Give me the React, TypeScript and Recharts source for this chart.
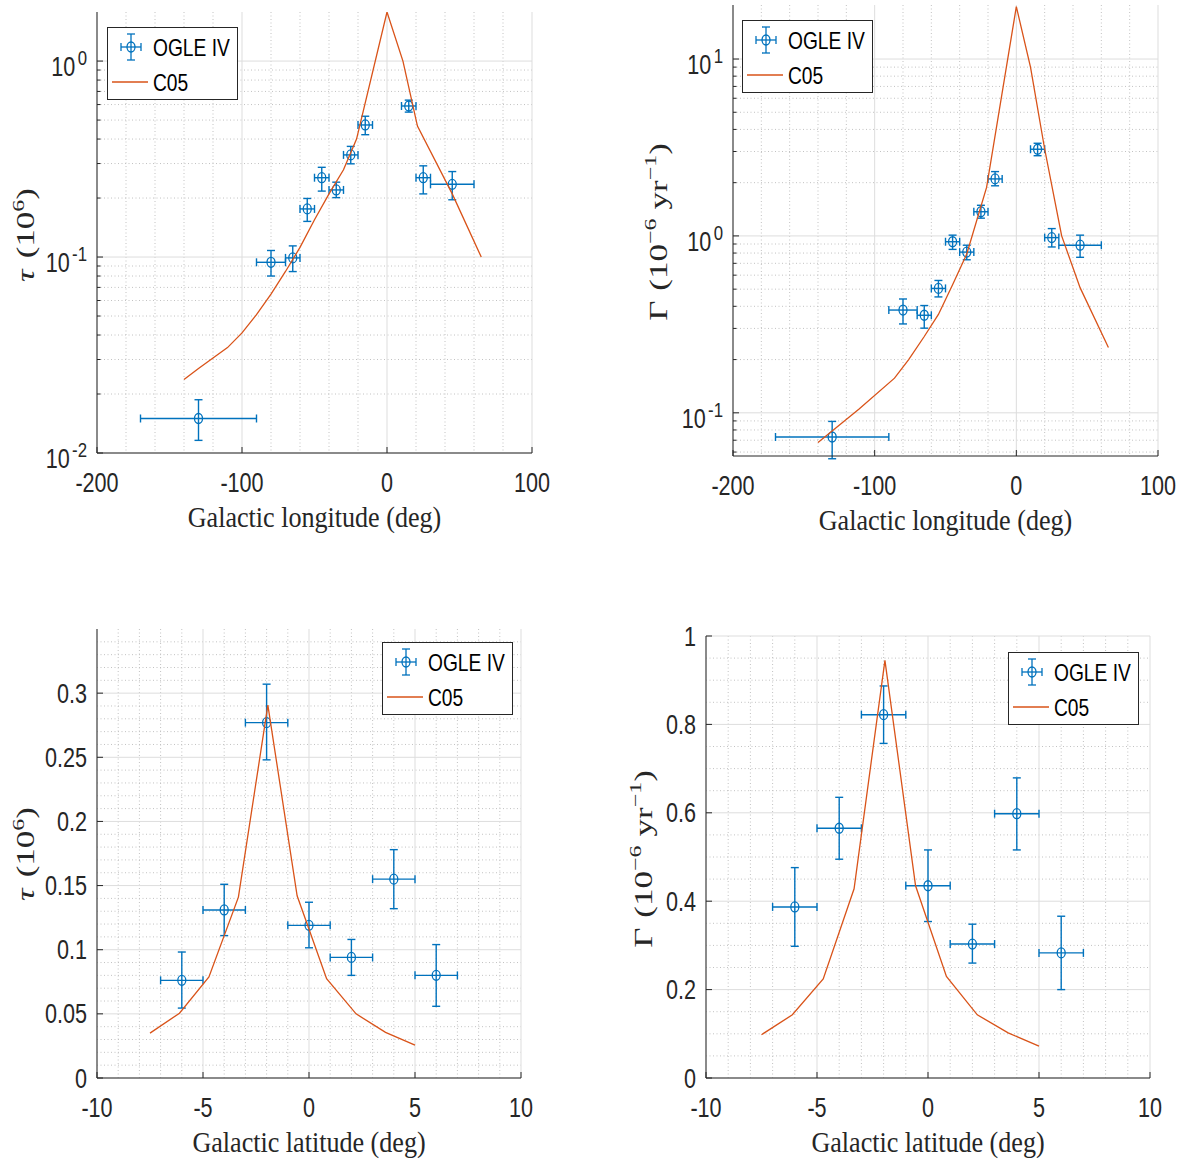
import React from "react";
import { ScatterChart, Scatter, XAxis, YAxis, CartesianGrid, ErrorBar, Legend } from "recharts";

const BLUE = "#0072BD";
const ORANGE = "#D95319";
const INK = "#262626";
const SANS = "'Liberation Sans', Arial, sans-serif";
const SERIF = "'Liberation Serif', 'Times New Roman', serif";

// OGLE IV, longitude bins (top row)
const lonBins = [-130, -80, -65, -55, -45, -35, -25, -15, 15, 25, 45];
const lonHalfWidth = [40, 10, 5, 5, 5, 5, 5, 5, 5, 5, 15];
const tauLon = [0.015, 0.094, 0.099, 0.176, 0.254, 0.22, 0.332, 0.472, 0.59, 0.254, 0.235];
const tauLonLow = [0.0116, 0.08, 0.0843, 0.152, 0.217, 0.201, 0.299, 0.421, 0.549, 0.21, 0.196];
const tauLonHigh = [0.0187, 0.108, 0.114, 0.199, 0.287, 0.241, 0.367, 0.523, 0.632, 0.292, 0.273];
const rateLon = [0.073, 0.381, 0.356, 0.505, 0.927, 0.81, 1.37, 2.1, 3.09, 0.978, 0.886];
const rateLonLow = [0.055, 0.318, 0.301, 0.452, 0.839, 0.733, 1.26, 1.92, 2.84, 0.866, 0.757];
const rateLonHigh = [0.0894, 0.44, 0.404, 0.56, 1.01, 0.886, 1.49, 2.31, 3.34, 1.1, 1.01];

// C05 model along longitude
const c05TauLonX = [-140, -130, -120, -110, -100, -90, -80, -70, -60, -50, -40, -30, -21, 0, 11, 21, 45, 65];
const c05TauLonY = [0.0237, 0.027, 0.0305, 0.0345, 0.041, 0.0508, 0.0647, 0.0844, 0.112, 0.155, 0.21, 0.279, 0.4, 1.78, 1.0, 0.466, 0.21, 0.1];
const c05RateLonX = [-140, -111, -86, -76, -65, -55, -45, -35, -21, 0, 10, 20, 32, 45, 65];
const c05RateLonY = [0.068, 0.105, 0.157, 0.2, 0.27, 0.36, 0.53, 0.79, 1.88, 19.8, 9.0, 3.1, 1.0, 0.51, 0.234];

// OGLE IV, latitude bins (bottom row)
const latBins = [-6, -4, -2, 0, 2, 4, 6];
const latHalfWidth = [1, 1, 1, 1, 1, 1, 1];
const tauLat = [0.0761, 0.131, 0.277, 0.119, 0.094, 0.155, 0.08];
const tauLatLow = [0.0545, 0.111, 0.248, 0.1015, 0.08, 0.132, 0.0559];
const tauLatHigh = [0.0982, 0.151, 0.307, 0.137, 0.108, 0.178, 0.104];
const rateLat = [0.387, 0.565, 0.822, 0.435, 0.303, 0.598, 0.283];
const rateLatLow = [0.298, 0.495, 0.757, 0.354, 0.26, 0.516, 0.2];
const rateLatHigh = [0.476, 0.635, 0.887, 0.516, 0.348, 0.679, 0.366];

// C05 model along latitude
const c05LatX = [-7.5, -6.11, -4.72, -3.33, -1.94, -0.56, 0.83, 2.22, 3.61, 5];
const c05TauLatY = [0.035, 0.0505, 0.0788, 0.141, 0.2906, 0.142, 0.0774, 0.05, 0.0356, 0.0256];
const c05RateLatY = [0.098, 0.143, 0.224, 0.428, 0.945, 0.435, 0.23, 0.143, 0.102, 0.072];

// ticks
const lonTicks = [-200, -100, 0, 100];
const latTicks = [-10, -5, 0, 5, 10];
const tauLonTicks = [0.01, 0.1, 1];
const rateLonTicks = [0.1, 1, 10];
const tauLatTicks = [0, 0.05, 0.1, 0.15, 0.2, 0.25, 0.3];
const rateLatTicks = [0, 0.2, 0.4, 0.6, 0.8, 1];

const obsRows = (xs: number[], hw: number[], ys: number[], lo: number[], hi: number[]) =>
  xs.map((x, i) => ({ x, y: ys[i], ex: hw[i], ey: [ys[i] - lo[i], hi[i] - ys[i]] }));
const modelRows = (xs: number[], ys: number[]) => xs.map((x, i) => ({ x, y: ys[i] }));

// minor grid positions
const logMinor = (lo: number, hi: number) => {
  const out: number[] = [];
  for (let e = -3; e <= 2; e++)
    for (let m = 2; m <= 9; m++) {
      const v = +(m * Math.pow(10, e)).toPrecision(6);
      if (v > lo && v < hi) out.push(v);
    }
  return out;
};
const linMinor = (lo: number, hi: number, step: number, major: number) => {
  const out: number[] = [];
  const n = Math.round((hi - lo) / step);
  for (let i = 1; i < n; i++) {
    const v = +(lo + i * step).toFixed(4);
    const r = v / major;
    if (Math.abs(r - Math.round(r)) > 1e-6) out.push(v);
  }
  return out;
};

const isPow10 = (v: number) => {
  const l = Math.log10(v);
  return Math.abs(l - Math.round(l)) < 1e-6;
};

const XTick = (p: any) => {
  const { x, y, payload } = p;
  return (
    <g>
      <line x1={x} x2={x} y1={y} y2={y - 6} stroke={INK} />
      <text transform={`translate(${x},${y + 39}) scale(0.8,1)`} textAnchor="middle" fontFamily={SANS} fontSize={27} fill={INK}>
        {String(payload.value)}
      </text>
    </g>
  );
};

const YTickLin = (p: any) => {
  const { x, y, payload } = p;
  return (
    <g>
      <line x1={x} x2={x + 6} y1={y} y2={y} stroke={INK} />
      <text transform={`translate(${x - 10},${y + 9.5}) scale(0.8,1)`} textAnchor="end" fontFamily={SANS} fontSize={27} fill={INK}>
        {String(payload.value)}
      </text>
    </g>
  );
};

const YTickLog = (p: any) => {
  const { x, y, payload } = p;
  const v = payload.value;
  const major = isPow10(v);
  return (
    <g>
      <line x1={x} x2={x + (major ? 6 : 3.5)} y1={y} y2={y} stroke={INK} />
      {major && (
        <text transform={`translate(${x - 10},${y + 15}) scale(0.8,1)`} textAnchor="end" fontFamily={SANS} fill={INK}>
          <tspan fontSize={27}>10</tspan>
          <tspan fontSize={21} dx={3} dy={-11}>{String(Math.round(Math.log10(v)))}</tspan>
        </text>
      )}
    </g>
  );
};

const LegendBox = () => (
  <div style={{ width: 131, height: 73, boxSizing: "border-box", border: `1px solid ${INK}`, background: "#fff" }}>
    <svg width={129} height={71} style={{ display: "block" }}>
      <g stroke={BLUE} strokeWidth={1.3} fill="none">
        <line x1={23} x2={23} y1={6} y2={32} />
        <line x1={19} x2={27} y1={6} y2={6} />
        <line x1={19} x2={27} y1={32} y2={32} />
        <line x1={13} x2={33} y1={19} y2={19} />
        <line x1={13} x2={13} y1={15} y2={23} />
        <line x1={33} x2={33} y1={15} y2={23} />
        <ellipse cx={23} cy={19} rx={4} ry={5} />
      </g>
      <line x1={4} x2={40} y1={54} y2={54} stroke={ORANGE} strokeWidth={1.3} />
      <text transform="translate(45,27.5) scale(0.8,1)" fontFamily={SANS} fontSize={24} fill="#000">OGLE IV</text>
      <text transform="translate(45,62.5) scale(0.8,1)" fontFamily={SANS} fontSize={24} fill="#000">C05</text>
    </svg>
  </div>
);

const tauLabel = (
  <>
    <tspan fontStyle="italic">τ</tspan>
    <tspan dx={11}>(10</tspan>
    <tspan fontSize={24} dy={-14}>6</tspan>
    <tspan dy={14}>)</tspan>
  </>
);

const rateLabel = (
  <>
    <tspan>Γ</tspan>
    <tspan dx={10}>(10</tspan>
    <tspan fontSize={24} dy={-15}>−6</tspan>
    <tspan dx={9} dy={15}>yr</tspan>
    <tspan fontSize={24} dy={-15}>−1</tspan>
    <tspan dy={15}>)</tspan>
  </>
);

type PanelProps = {
  left: number;
  top: number;
  width: number;
  height: number;
  plot: { l: number; t: number; r: number; b: number };
  xDomain: [number, number];
  xTicks: number[];
  xMinor: number[];
  yDomain: [number, number];
  yTicks: number[];
  yMinor: number[];
  log: boolean;
  obs: { x: number; y: number; ex: number; ey: number[] }[];
  model: { x: number; y: number }[];
  xLabel: string;
  yLabel: React.ReactNode;
  yLabelPos: [number, number];
  legendPos: [number, number];
};

function Panel(props: PanelProps) {
  const { left, top, width, height, plot, log } = props;
  const cx = (plot.l + plot.r) / 2;
  return (
    <div style={{ position: "absolute", left, top, width, height }}>
      <ScatterChart width={width} height={height} margin={{ top: plot.t, right: width - plot.r, left: 0, bottom: 0 }}>
        <CartesianGrid stroke="#c2c2c2" strokeDasharray="1 2.5" horizontalValues={props.yMinor} verticalValues={props.xMinor} />
        <CartesianGrid stroke="#dddddd" horizontalValues={props.yTicks} verticalValues={props.xTicks} />
        <XAxis
          type="number"
          dataKey="x"
          domain={props.xDomain}
          ticks={props.xTicks}
          interval={0}
          allowDataOverflow
          height={height - plot.b}
          tickLine={false}
          tickSize={0}
          tickMargin={0}
          axisLine={{ stroke: INK }}
          tick={(p: any) => <XTick {...p} />}
          label={{
            content: () => (
              <text transform={`translate(${cx},${plot.b + 74}) scale(0.87,1)`} textAnchor="middle" fontFamily={SERIF} fontSize={30} fill={INK}>
                {props.xLabel}
              </text>
            ),
          }}
        />
        <YAxis
          type="number"
          dataKey="y"
          scale={log ? "log" : "linear"}
          domain={props.yDomain}
          ticks={log ? [...props.yTicks, ...props.yMinor].sort((a, b) => a - b) : props.yTicks}
          interval={0}
          allowDataOverflow
          width={plot.l}
          tickLine={false}
          tickSize={0}
          tickMargin={0}
          axisLine={{ stroke: INK }}
          tick={(p: any) => (log ? <YTickLog {...p} /> : <YTickLin {...p} />)}
          label={{
            content: () => (
              <text
                transform={`translate(${props.yLabelPos[0]},${props.yLabelPos[1]}) scale(0.72,1) rotate(-90)`}
                textAnchor="middle"
                fontFamily={SERIF}
                fontSize={35}
                fill={INK}
              >
                {props.yLabel}
              </text>
            ),
          }}
        />
        <Scatter
          data={props.obs}
          isAnimationActive={false}
          shape={(p: any) => <ellipse cx={p.cx} cy={p.cy} rx={4} ry={5} fill="none" stroke={BLUE} strokeWidth={1.3} />}
        >
          <ErrorBar dataKey="ex" direction="x" width={4} stroke={BLUE} strokeWidth={1.4} />
          <ErrorBar dataKey="ey" direction="y" width={4} stroke={BLUE} strokeWidth={1.4} />
        </Scatter>
        <Scatter
          data={props.model}
          isAnimationActive={false}
          line={{ stroke: ORANGE, strokeWidth: 1.3 }}
          lineType="joint"
          shape={() => <g />}
        />
        <Legend
          layout="vertical"
          align="center"
          verticalAlign="middle"
          wrapperStyle={{ left: props.legendPos[0], top: props.legendPos[1], width: 131, height: 73 }}
          content={() => <LegendBox />}
        />
      </ScatterChart>
    </div>
  );
}

export default function App() {
  return (
    <div style={{ position: "absolute", left: 0, top: 0, width: 1181, height: 1163, background: "#fff" }}>
      <Panel
        left={0}
        top={0}
        width={590}
        height={560}
        plot={{ l: 97, t: 12, r: 532, b: 453 }}
        xDomain={[-200, 100]}
        xTicks={lonTicks}
        xMinor={linMinor(-200, 100, 20, 100)}
        yDomain={[0.01, 1.78]}
        yTicks={tauLonTicks}
        yMinor={logMinor(0.01, 1.78)}
        log
        obs={obsRows(lonBins, lonHalfWidth, tauLon, tauLonLow, tauLonHigh)}
        model={modelRows(c05TauLonX, c05TauLonY)}
        xLabel="Galactic longitude (deg)"
        yLabel={tauLabel}
        yLabelPos={[34, 235]}
        legendPos={[107, 27]}
      />
      <Panel
        left={600}
        top={0}
        width={581}
        height={560}
        plot={{ l: 133, t: 5, r: 558, b: 456 }}
        xDomain={[-200, 100]}
        xTicks={lonTicks}
        xMinor={linMinor(-200, 100, 20, 100)}
        yDomain={[0.057, 20.2]}
        yTicks={rateLonTicks}
        yMinor={logMinor(0.057, 19.9)}
        log
        obs={obsRows(lonBins, lonHalfWidth, rateLon, rateLonLow, rateLonHigh)}
        model={modelRows(c05RateLonX, c05RateLonY)}
        xLabel="Galactic longitude (deg)"
        yLabel={rateLabel}
        yLabelPos={[67, 232]}
        legendPos={[142, 20]}
      />
      <Panel
        left={0}
        top={600}
        width={590}
        height={563}
        plot={{ l: 97, t: 29, r: 521, b: 478 }}
        xDomain={[-10, 10]}
        xTicks={latTicks}
        xMinor={linMinor(-10, 10, 1, 5)}
        yDomain={[0, 0.35]}
        yTicks={tauLatTicks}
        yMinor={linMinor(0, 0.35, 0.01, 0.05)}
        log={false}
        obs={obsRows(latBins, latHalfWidth, tauLat, tauLatLow, tauLatHigh)}
        model={modelRows(c05LatX, c05TauLatY)}
        xLabel="Galactic latitude (deg)"
        yLabel={tauLabel}
        yLabelPos={[34, 254]}
        legendPos={[382, 42]}
      />
      <Panel
        left={600}
        top={600}
        width={581}
        height={563}
        plot={{ l: 106, t: 36, r: 550, b: 478 }}
        xDomain={[-10, 10]}
        xTicks={latTicks}
        xMinor={linMinor(-10, 10, 1, 5)}
        yDomain={[0, 1]}
        yTicks={rateLatTicks}
        yMinor={linMinor(0, 1, 0.05, 0.2)}
        log={false}
        obs={obsRows(latBins, latHalfWidth, rateLat, rateLatLow, rateLatHigh)}
        model={modelRows(c05LatX, c05RateLatY)}
        xLabel="Galactic latitude (deg)"
        yLabel={rateLabel}
        yLabelPos={[52, 259]}
        legendPos={[408, 52]}
      />
    </div>
  );
}
